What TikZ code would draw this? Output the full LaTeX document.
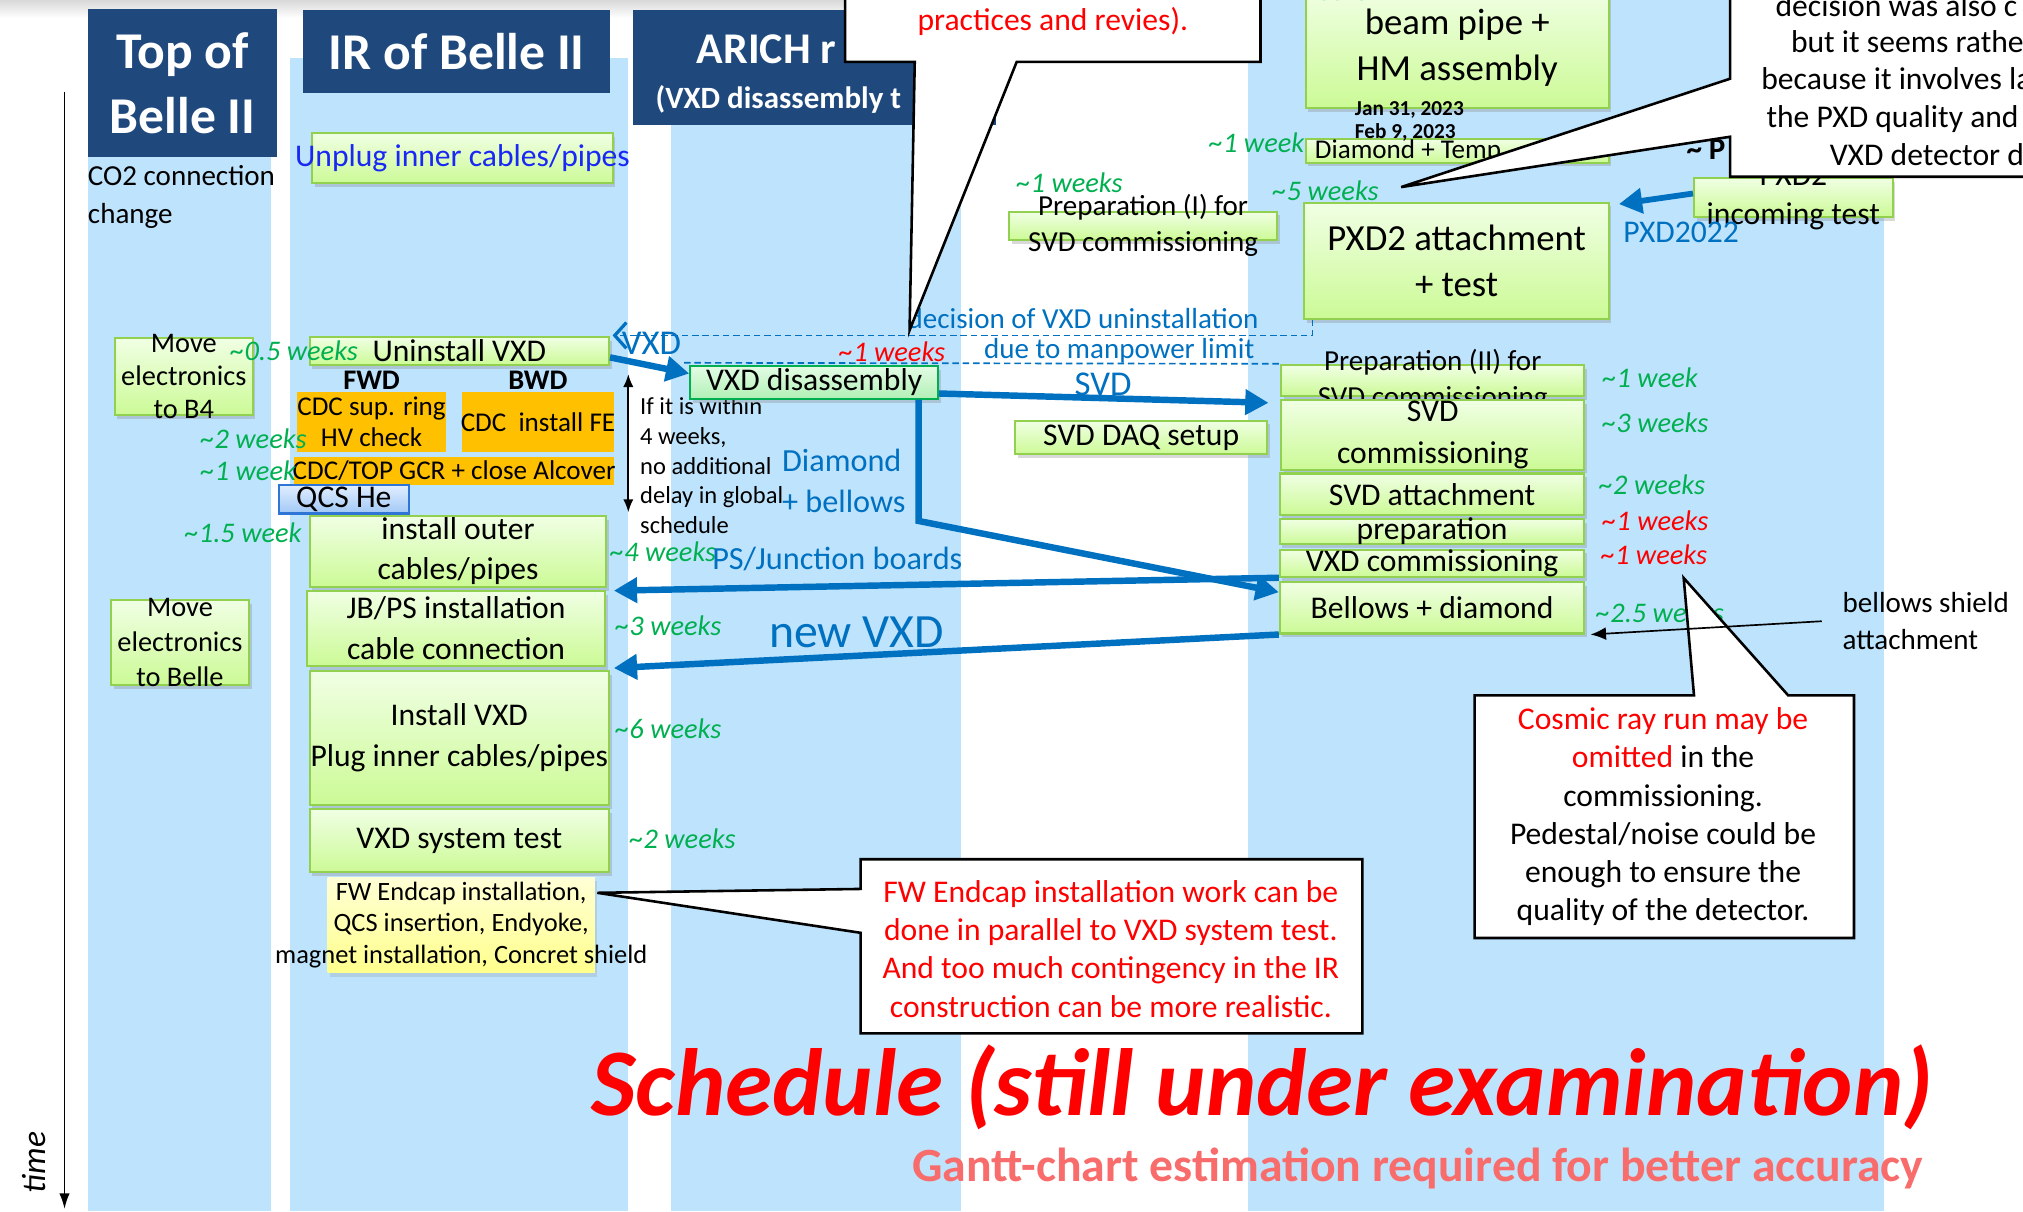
\documentclass[tikz,border=0pt]{standalone}
\usepackage{fontspec}
\setmainfont{Carlito}
\usepackage{xcolor}
\usetikzlibrary{arrows.meta,positioning,shadows}

\definecolor{colbg}{RGB}{190,227,252}
\definecolor{hdblue}{RGB}{31,73,125}
\definecolor{gtop}{RGB}{240,255,228}
\definecolor{gbot}{RGB}{204,250,150}
\definecolor{gline}{RGB}{146,208,80}
\definecolor{dtop}{RGB}{226,252,228}
\definecolor{dbot}{RGB}{178,240,182}
\definecolor{dline}{RGB}{0,176,80}
\definecolor{wkgreen}{RGB}{0,176,80}
\definecolor{arblue}{RGB}{0,112,192}
\definecolor{plugblue}{RGB}{25,40,245}
\definecolor{orng}{RGB}{255,192,0}
\definecolor{ytop}{RGB}{255,255,214}
\definecolor{ybot}{RGB}{255,255,140}
\definecolor{qtop}{RGB}{225,238,255}
\definecolor{qbot}{RGB}{160,200,245}
\definecolor{qline}{RGB}{46,117,214}
\definecolor{gantt}{RGB}{248,108,108}

\begin{document}
\begin{tikzpicture}[x=1pt, y=-1pt]
\tikzstyle{gbox} = [rectangle, draw=gline, line width=1.6pt, top color=gtop, bottom color=gbot, inner sep=0pt, drop shadow={shadow xshift=2pt, shadow yshift=-3pt, opacity=0.3}]
\tikzstyle{dbox} = [gbox, draw=dline, top color=dtop, bottom color=dbot]
\tikzstyle{obox} = [rectangle, fill=orng, inner sep=0pt]
\tikzstyle{hdr} = [rectangle, fill=hdblue, inner sep=0pt]
\tikzstyle{btxt} = [font=\fontsize{24.5}{31}\selectfont, align=center, inner sep=0pt]
\tikzstyle{otxt} = [font=\fontsize{21}{24}\selectfont, align=center, inner sep=0pt]
\tikzstyle{hdtxt} = [font=\fontsize{40}{50}\selectfont\bfseries, text=white, align=center, inner sep=0pt]
\tikzstyle{wk} = [font=\fontsize{22}{26}\selectfont\itshape, text=wkgreen, inner sep=0pt]
\tikzstyle{wkred} = [wk, text=red]
\tikzstyle{note} = [font=\fontsize{22.5}{29}\selectfont, text=arblue, inner sep=0pt]
\tikzstyle{flow} = [draw=arblue, line width=5pt, -{Triangle[length=18pt, width=19pt]}]
\tikzstyle{callout} = [draw=black, line width=2pt, fill=white, line join=miter]

\useasboundingbox (0,0) rectangle (1568,939);
\clip (0,0) rectangle (1568,939);
\shade[top color=black!15, bottom color=white] (0,0) rectangle (1568,14);
\fill[colbg] (68,10) rectangle (210,939);
\fill[colbg] (225,45) rectangle (487,939);
\fill[colbg] (520,60) rectangle (745,939);
\fill[colbg] (967,0) rectangle (1460,939);

\node[hdr, minimum width=147pt, minimum height=115pt, label={[hdtxt]center:{Top of\\Belle II}}] (hdtop) at (141.5,64.5) {};
\node[hdr, minimum width=238pt, minimum height=64pt, label={[hdtxt]center:IR of Belle II}] (hdir) at (354,40) {};
\node[hdr, minimum width=281pt, minimum height=89pt] (hdarich) at (631.5,52.5) {};
\node[hdtxt, anchor=west, font=\fontsize{34}{40}\selectfont\bfseries] (arich-t) at (540,38) {ARICH r};
\node[hdtxt, anchor=west, font=\fontsize{24}{28}\selectfont\bfseries] (arich-s) at (508,77) {(VXD disassembly t};

\coordinate (ax0) at (50,71);
\coordinate (ax1) at (50,937);
\draw[line width=1.3pt, -{Latex[length=12pt, width=8pt]}] (ax0) -- (ax1);
\node[rotate=90, font=\fontsize{26}{30}\selectfont\itshape] (time) at (26,901) {time};

\node[anchor=west, align=left, font=\fontsize{22.5}{29}\selectfont, inner sep=0pt] (co2) at (68,152.5) {CO2 connection\\change};
\node[gbox, minimum width=107pt, minimum height=60pt, label={[btxt, font=\fontsize{22}{25.5}\selectfont]center:{Move\\electronics\\to B4}}] (mvb4) at (142.5,292) {};
\node[gbox, minimum width=107pt, minimum height=66pt, label={[btxt, font=\fontsize{22}{27.5}\selectfont]center:{Move\\electronics\\to Belle}}] (mvbelle) at (139.5,498) {};

\node[gbox, minimum width=233pt, minimum height=39pt, label={[btxt, text=plugblue]center:Unplug inner cables/pipes}] (unplug) at (358.5,122.5) {};
\node[gbox, minimum width=232pt, minimum height=22pt, label={[btxt]center:Uninstall VXD}] (uninst) at (356,272) {};
\node[font=\fontsize{22}{26}\selectfont\bfseries, inner sep=0pt] (fwd) at (288,295) {FWD};
\node[font=\fontsize{22}{26}\selectfont\bfseries, inner sep=0pt] (bwd) at (417,295) {BWD};
\node[obox, minimum width=116pt, minimum height=46pt, label={[otxt]center:{CDC sup. ring\\HV check}}] (cdcsup) at (288,327) {};
\node[obox, minimum width=118pt, minimum height=46pt, label={[otxt]center:{CDC\ \ install FE}}] (cdcfe) at (417,327) {};
\node[obox, minimum width=248pt, minimum height=22pt, label={[otxt]center:{CDC/TOP GCR + close Alcover}}] (cdctop) at (352,365) {};
\node[rectangle, draw=qline, line width=1.6pt, top color=qtop, bottom color=qbot, inner sep=0pt, minimum width=101pt, minimum height=22pt, label={[btxt]center:QCS He}] (qcs) at (266.5,387) {};
\node[gbox, minimum width=230pt, minimum height=55pt, label={[btxt]center:{install outer\\cables/pipes}}] (outer) at (355,427.5) {};
\node[gbox, minimum width=231pt, minimum height=58pt, label={[btxt, font=\fontsize{24.5}{32}\selectfont]center:{JB/PS installation\\cable connection}}] (jbps) at (353.5,487) {};
\node[gbox, minimum width=232pt, minimum height=104pt, label={[btxt, font=\fontsize{24.5}{32}\selectfont]center:{Install VXD\\Plug inner cables/pipes}}] (instvxd) at (356,572) {};
\node[gbox, minimum width=232pt, minimum height=49pt, label={[btxt]center:VXD system test}] (systest) at (356,651.5) {};
\node[rectangle, top color=ytop, bottom color=ybot, inner sep=0pt, minimum width=207pt, minimum height=74pt, drop shadow={shadow xshift=2pt, shadow yshift=-3pt, opacity=0.2}, label={[btxt, font=\fontsize{20.5}{24.5}\selectfont]center:{FW Endcap installation,\\QCS insertion, Endyoke,\\magnet installation, Concret shield}}] (endcap) at (357.5,717) {};

\node[wk] (w-uninst) at (228,272) {\textasciitilde0.5 weeks};
\node[wk] (w-cdcsup) at (196.5,340) {\textasciitilde2 weeks};
\node[wk] (w-cdctop) at (192.5,365) {\textasciitilde1 week};
\node[wk] (w-outer) at (188.5,413) {\textasciitilde1.5 week};
\node[wk] (w-ifit) at (514,428) {\textasciitilde4 weeks};
\node[wk] (w-jbps) at (518,485) {\textasciitilde3 weeks};
\node[wk] (w-instvxd) at (518,565) {\textasciitilde6 weeks};
\node[wk] (w-systest) at (529,650) {\textasciitilde2 weeks};

\coordinate (da0) at (487,290);
\coordinate (da1) at (487,397);
\draw[line width=1.3pt, {Latex[length=10pt, width=8pt]}-{Latex[length=10pt, width=8pt]}] (da0) -- (da1);
\node[anchor=west, align=left, font=\fontsize{19}{23}\selectfont, inner sep=0pt] (ifit) at (496,361) {If it is within\\4 weeks,\\no additional\\delay in global\\schedule};

\node[dbox, minimum width=192pt, minimum height=25pt, label={[btxt]center:VXD disassembly}] (dbox) at (631,296.5) {};
\node[gbox, minimum width=208pt, minimum height=22pt, label={[btxt, font=\fontsize{22.5}{28}\selectfont]center:{Preparation (I) for\\SVD commissioning}}] (prepI) at (886,175) {};
\node[gbox, minimum width=195pt, minimum height=26pt, label={[btxt]center:SVD DAQ setup}] (svddaq) at (884.5,339) {};
\node[wk] (w-prepI) at (829,142) {\textasciitilde1 weeks};
\node[wkred] (w-dbox) at (691.5,273) {\textasciitilde1 weeks};

\node[gbox, minimum width=235pt, minimum height=94pt, label={[btxt, font=\fontsize{28.5}{35}\selectfont]center:{beam pipe +\\HM assembly}}] (beampipe) at (1129.5,37) {};
\node[gbox, minimum width=235pt, minimum height=18pt] (diamt) at (1129.5,117) {};
\node[anchor=west, font=\fontsize{21}{24}\selectfont, inner sep=0pt] (diamt-t) at (1019,117) {Diamond + Temp};
\node[anchor=west, align=left, font=\fontsize{16.5}{18}\selectfont\bfseries, inner sep=0pt] (dates) at (1050,94) {Jan 31, 2023\\Feb 9, 2023};
\node[gbox, minimum width=236pt, minimum height=90pt, label={[btxt, font=\fontsize{28.5}{36}\selectfont]center:{PXD2 attachment\\+ test}}] (pxd2att) at (1129,202) {};
\node[anchor=west, font=\fontsize{24}{28}\selectfont\bfseries, inner sep=0pt] (pxtil) at (1307,116) {\textasciitilde{} P};
\node[gbox, minimum width=154pt, minimum height=30pt, label={[btxt, font=\fontsize{24.5}{30}\selectfont]center:{PXD2\\incoming test}}] (pxdinc) at (1390,153) {};
\node[wk] (w-top) at (1014,-7) {\textasciitilde12 weeks};
\node[wk] (w-diamt) at (974,111) {\textasciitilde1 week};
\node[wk] (w-pxd2att) at (1027.5,148) {\textasciitilde5 weeks};

\node[gbox, minimum width=235pt, minimum height=24pt, label={[btxt, font=\fontsize{22.5}{28}\selectfont]center:{Preparation (II) for\\SVD commissioning}}] (prepII) at (1110.5,295) {};
\node[gbox, minimum width=235pt, minimum height=54pt, label={[btxt, font=\fontsize{24.5}{33}\selectfont]center:{SVD\\commissioning}}] (svdcom) at (1110.5,337) {};
\node[gbox, minimum width=236pt, minimum height=32pt, label={[btxt]center:SVD attachment}] (svdatt) at (1110,383) {};
\node[gbox, minimum width=236pt, minimum height=20pt, label={[btxt]center:preparation}] (prep) at (1110,412) {};
\node[gbox, minimum width=236pt, minimum height=21pt, label={[btxt]center:VXD commissioning}] (vxdcom) at (1110,436.5) {};
\node[gbox, minimum width=236pt, minimum height=40pt, label={[btxt]center:Bellows + diamond}] (bellows) at (1110,471) {};
\node[wk] (w-prepII) at (1279,293) {\textasciitilde1 week};
\node[wk] (w-svdcom) at (1283,328) {\textasciitilde3 weeks};
\node[wk] (w-svdatt) at (1280.5,376) {\textasciitilde2 weeks};
\node[wkred] (w-prep) at (1283,404) {\textasciitilde1 weeks};
\node[wkred] (w-vxdcom) at (1282,430) {\textasciitilde1 weeks};
\node[wk, anchor=west] (w-bellows) at (1237,475) {\textasciitilde2.5 weeks};

\node[note] (decision) at (839.5,247) {decision of VXD uninstallation};
\node[note] (manpower) at (867.5,272) {due to manpower limit};
\node[note, font=\fontsize{27}{30}\selectfont] (l-vxd) at (505,266) {VXD};
\node[note, font=\fontsize{27}{30}\selectfont] (l-svd) at (855,298) {SVD};
\node[note, anchor=west, align=left, font=\fontsize{25}{32}\selectfont] (l-diab) at (606,373) {Diamond\\+ bellows};
\node[note, font=\fontsize{25}{30}\selectfont] (l-psjb) at (649,433) {PS/Junction boards};
\node[note, font=\fontsize{37}{40}\selectfont] (l-newvxd) at (664,490) {new VXD};
\node[note, font=\fontsize{24.5}{28}\selectfont] (l-pxd) at (1303,180) {PXD2022};

\draw[arblue, line width=1.3pt, dash pattern=on 5pt off 3pt, -{Straight Barb[length=9pt, width=20pt, line width=2.5pt]}] ([xshift=7pt]pxd2att.south west) |- ([xshift=2pt, yshift=12pt]uninst.east);
\draw[arblue, line width=1.3pt, dash pattern=on 5pt off 3pt] ([xshift=-4pt, yshift=2pt]dbox.north west) -- ([yshift=13pt]prepII.west);
\draw[flow] ([yshift=-5pt]uninst.east) -- ([yshift=7pt]dbox.west);
\draw[flow] ([yshift=-8.5pt]dbox.east) -- ([xshift=-9pt, yshift=-3pt]svdcom.north west);
\draw[flow] ([xshift=81pt]dbox.south) -- ++(0,94) -- ([yshift=12pt]bellows.west);
\draw[flow] (vxdcom.south west) -- ([xshift=5pt, yshift=-2pt]outer.south east);
\draw[flow] (bellows.south west) -- ([xshift=6pt, yshift=-1pt]jbps.south east);
\draw[flow, line width=4.5pt] ([yshift=3pt]pxdinc.west) -- ([xshift=7pt, yshift=-2pt]pxd2att.north east);

\draw[callout] (655,-10) -- (655,48) -- (709,48) -- (705,256) -- (788,48) -- (977,48) -- (977,-10) -- cycle;
\node[btxt, text=red] (c-top) at (816,17) {practices and revies).};

\draw[callout] (1341,-10) -- (1341,61) -- (1086,145) -- (1341,106) -- (1341,137) -- (1580,137) -- (1580,-10) -- cycle;
\node[btxt, anchor=west] (c-r1) at (1376,4) {decision was also c};
\node[btxt, anchor=west] (c-r2) at (1388,32) {but it seems rathe};
\node[btxt, anchor=west] (c-r3) at (1365,61) {because it involves la};
\node[btxt, anchor=west] (c-r4) at (1369,92) {the PXD quality and};
\node[btxt, anchor=west] (c-r5) at (1418,120) {VXD detector d};

\draw[callout] (1143,539) -- (1313,539) -- (1305,448) -- (1386,539) -- (1437,539) -- (1437,727) -- (1143,727) -- cycle;
\node[btxt, font=\fontsize{24.5}{29.6}\selectfont] (c-cosmic) at (1289,633) {\textcolor{red}{Cosmic ray run may be}\\\textcolor{red}{omitted} in the\\commissioning.\\Pedestal/noise could be\\enough to ensure the\\quality of the detector.};

\draw[callout] (667,666) -- (1056,666) -- (1056,801) -- (667,801) -- (667,723) -- (463,692) -- (667,689) -- cycle;
\node[btxt, text=red, font=\fontsize{24.5}{29.7}\selectfont] (c-fw) at (861,735.5) {FW Endcap installation work can be\\done in parallel to VXD system test.\\And too much contingency in the IR\\construction can be more realistic.};

\node[anchor=west, align=left, font=\fontsize{22.5}{29}\selectfont, inner sep=0pt] (bsh) at (1428,481.5) {bellows shield\\attachment};
\draw[line width=1.3pt, -{Latex[length=12pt, width=10pt]}] ([xshift=-16pt]bsh.west) -- ([xshift=4pt]bellows.south east);

\node[font=\fontsize{74}{80}\selectfont\bfseries\itshape, text=red, inner sep=0pt] (title) at (978.5,843) {Schedule (still under examination)};
\node[font=\fontsize{37}{40}\selectfont\bfseries, text=gantt, inner sep=0pt] (subtitle) at (1099,906) {Gantt-chart estimation required for better accuracy};
\end{tikzpicture}
\end{document}
